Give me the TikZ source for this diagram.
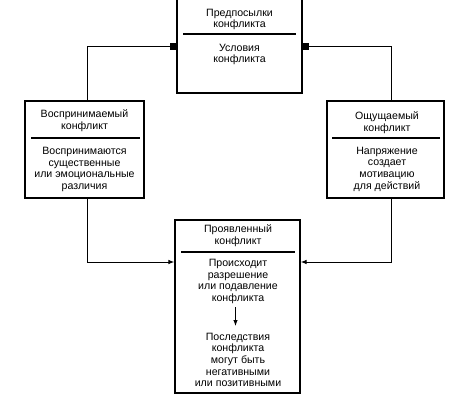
\documentclass[tikz,border=0pt]{standalone}
\usepackage{fontspec}
\setmainfont{Liberation Sans}
\usetikzlibrary{arrows.meta}
\begin{document}
\begin{tikzpicture}[x=1pt,y=-1pt,
  box/.style={draw, line width=1.1pt, inner sep=0pt},
  txt/.style={font=\fontsize{10.6}{11.7}\selectfont, align=center, inner sep=0pt},
  sq/.style={fill=black, draw=none, minimum size=7pt, inner sep=0pt},
  conn/.style={line width=1pt},
  arr/.style={line width=1pt, -{Latex[length=6pt,width=4.5pt]}},
  sepl/.style={line width=1.1pt}]
\useasboundingbox (0,0) rectangle (467,405);
% boxes
\node[box, minimum width=125pt, minimum height=100pt] (tb) at (239.5,43) {};
\node[box, minimum width=119pt, minimum height=97pt] (lb) at (84.5,149.5) {};
\node[box, minimum width=117pt, minimum height=97pt] (rb) at (385.5,149.5) {};
\node[box, minimum width=125pt, minimum height=173pt] (bb) at (237.5,306.5) {};
% separators
\draw[sepl] (183,34) -- (296,34);
\draw[sepl] (31,138) -- (140,138);
\draw[sepl] (332,138) -- (440,138);
\draw[sepl] (181,252) -- (295,252);
% texts
\node[txt] (t1) at (239.5,19.5) {Предпосылки\\конфликта};
\node[txt] (t2) at (239.5,54.5) {Условия\\конфликта};
\node[txt] (l1) at (84.5,121) {Воспринимаемый\\конфликт};
\node[txt] (l2) at (84.5,169.5) {Воспринимаются\\существенные\\или эмоциональные\\различия};
\node[txt] (r1) at (387,122.5) {Ощущаемый\\конфликт};
\node[txt] (r2) at (387,169) {Напряжение\\создает\\мотивацию\\для действий};
\node[txt] (b1) at (238,236) {Проявленный\\конфликт};
\node[txt] (b2) at (238,281.5) {Происходит\\разрешение\\или подавление\\конфликта};
\node[txt] (b3) at (238,360) {Последствия\\конфликта\\могут быть\\негативными\\или позитивными};
% markers
\node[sq] (sqL) at (173.5,46.5) {};
\node[sq] (sqR) at (305.5,46.5) {};
% connector helpers
\coordinate (lvx) at (87,0);
\coordinate (rvx) at (391,0);
\coordinate (ay) at (0,262);
\coordinate (ia) at (235.5,307);
\coordinate (ib) at (235.5,326);
% connectors
\draw[conn] (sqL.west) -| (lb.north -| lvx);
\draw[conn] (sqR.east) -| (rb.north -| rvx);
\draw[arr] (lb.south -| lvx) |- (bb.west |- ay);
\draw[arr] (rb.south -| rvx) |- (bb.east |- ay);
\draw[arr] (ia) -- (ib);
\end{tikzpicture}
\end{document}
